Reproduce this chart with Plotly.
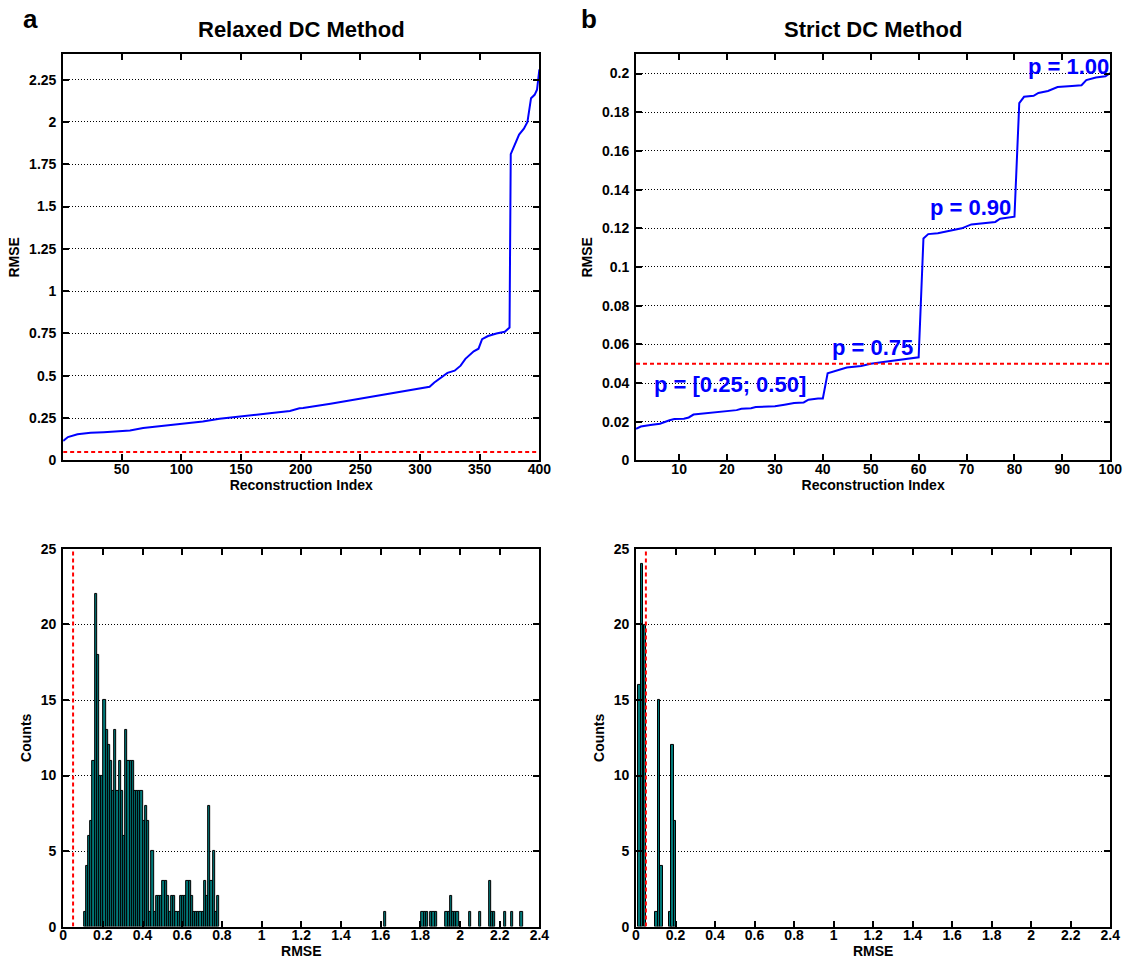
import plotly.graph_objects as go

# ---------------- data ----------------
relaxed_idx = [1, 5, 13, 24, 35, 57, 68, 90, 101, 118, 132, 154, 163, 174, 191, 199, 202,
               225, 250, 275, 300, 308, 312, 318, 323, 329, 334, 338, 345, 349, 352, 357,
               364, 371, 375, 376, 380, 383, 387, 390, 393, 396, 398, 400]
relaxed_rmse = [0.115, 0.138, 0.154, 0.163, 0.167, 0.177, 0.192, 0.208, 0.215, 0.23, 0.246,
                0.26, 0.27, 0.279, 0.292, 0.308, 0.31, 0.335, 0.366, 0.395, 0.428, 0.435,
                0.46, 0.49, 0.517, 0.53, 0.56, 0.60, 0.645, 0.66, 0.716, 0.735, 0.75, 0.76,
                0.785, 1.81, 1.88, 1.925, 1.96, 2.0, 2.14, 2.16, 2.19, 2.31]

strict_idx = [1, 2, 4, 6, 8, 9, 11, 12, 13, 15, 18, 20, 22, 23, 25, 26, 30, 32, 34, 36,
              37, 39, 40, 41, 42, 44, 45, 48, 50, 53, 56, 58, 60, 61, 62, 64, 66, 68, 69, 71,
              74, 76, 77, 80, 81, 82, 84, 85, 87, 89, 92, 94, 95, 97, 99, 100]
strict_rmse = [0.0163, 0.0175, 0.0183, 0.019, 0.0208, 0.0214, 0.0215, 0.0222, 0.0237, 0.0242,
               0.025, 0.0256, 0.026, 0.0267, 0.027, 0.0276, 0.028, 0.0288, 0.0297, 0.030,
               0.0314, 0.032, 0.032, 0.045, 0.0458, 0.047, 0.048, 0.0488, 0.050, 0.051,
               0.052, 0.053, 0.0533, 0.1147, 0.117, 0.1175, 0.1185, 0.1197, 0.12, 0.122,
               0.123, 0.1233, 0.125, 0.126, 0.1847, 0.188, 0.1885, 0.190, 0.191, 0.193,
               0.1936, 0.194, 0.1966, 0.198, 0.1986, 0.2003]

threshold = 0.05

hist_relaxed_rmse = [0.110, 0.121, 0.132, 0.143, 0.154, 0.165, 0.176, 0.187, 0.198, 0.209,
                     0.220, 0.231, 0.242, 0.253, 0.264, 0.275, 0.286, 0.297, 0.308, 0.319,
                     0.330, 0.341, 0.352, 0.363, 0.374, 0.385, 0.396, 0.407, 0.418, 0.429,
                     0.440, 0.451, 0.462, 0.473, 0.484, 0.495, 0.506, 0.517, 0.528, 0.539,
                     0.550, 0.561, 0.572, 0.583, 0.594, 0.605, 0.616, 0.627, 0.638, 0.649,
                     0.660, 0.671, 0.682, 0.693, 0.704, 0.715, 0.726, 0.737, 0.748, 0.759,
                     0.770, 0.781,
                     1.621, 1.812, 1.823, 1.834, 1.856, 1.867, 1.878, 1.933, 1.944, 1.955,
                     1.966, 1.977, 1.988, 2.051, 2.101, 2.152, 2.163, 2.174, 2.229, 2.262, 2.311]
hist_relaxed_counts = [1, 4, 6, 7, 11, 22, 18, 10, 10, 15,
                       13, 12, 11, 9, 13, 9, 11, 9, 6, 13,
                       11, 11, 11, 9, 9, 9, 9, 7, 8, 7,
                       1, 5, 1, 2, 2, 2, 3, 3, 2, 1,
                       2, 2, 1, 1, 2, 2, 2, 3, 3, 2,
                       1, 1, 1, 1, 1, 3, 2, 8, 3, 5,
                       1, 2,
                       1, 1, 1, 1, 1, 1, 1, 1, 1, 2,
                       1, 1, 1, 1, 1, 3, 1, 1, 1, 1, 1]

hist_strict_rmse = [0.016, 0.031, 0.046, 0.104, 0.116, 0.128, 0.175, 0.186, 0.197]
hist_strict_counts = [16, 24, 20, 1, 15, 4, 1, 12, 7]

line_ticks_relaxed = [50, 100, 150, 200, 250, 300, 350, 400]
line_ticks_strict = [10, 20, 30, 40, 50, 60, 70, 80, 90, 100]
rmse_ticks_relaxed = [0, 0.25, 0.5, 0.75, 1, 1.25, 1.5, 1.75, 2, 2.25]
rmse_ticks_strict = [0, 0.02, 0.04, 0.06, 0.08, 0.1, 0.12, 0.14, 0.16, 0.18, 0.2]
hist_x_ticks = [0, 0.2, 0.4, 0.6, 0.8, 1, 1.2, 1.4, 1.6, 1.8, 2, 2.2, 2.4]
count_ticks = [0, 5, 10, 15, 20, 25]

# ---------------- figure ----------------
W, H = 1141, 971
FONT = "Liberation Sans, Arial, Helvetica, sans-serif"
BLUE = "#0000ff"
RED = "#ff0000"
TEAL = "#007878"


def px_x(p):
    return p / W


def px_y(p):
    return 1 - p / H


def fmt(v):
    return "%g" % v


fig = go.Figure()

fig.add_trace(go.Scatter(x=relaxed_idx, y=relaxed_rmse, mode="lines",
                         line=dict(color=BLUE, width=2), xaxis="x", yaxis="y",
                         showlegend=False))
fig.add_trace(go.Scatter(x=[1, 400], y=[threshold, threshold], mode="lines",
                         line=dict(color=RED, width=2, dash="4px,3px"), xaxis="x", yaxis="y",
                         showlegend=False))
fig.add_trace(go.Scatter(x=strict_idx, y=strict_rmse, mode="lines",
                         line=dict(color=BLUE, width=2), xaxis="x2", yaxis="y2",
                         showlegend=False))
fig.add_trace(go.Scatter(x=[1, 100], y=[threshold, threshold], mode="lines",
                         line=dict(color=RED, width=2, dash="4px,3px"), xaxis="x2", yaxis="y2",
                         showlegend=False))
fig.add_trace(go.Bar(x=hist_relaxed_rmse, y=hist_relaxed_counts, width=0.011,
                     marker=dict(color=TEAL, line=dict(color="black", width=1)),
                     xaxis="x3", yaxis="y3", showlegend=False))
fig.add_trace(go.Scatter(x=[threshold, threshold], y=[0, 25], mode="lines",
                         line=dict(color=RED, width=2, dash="4px,3px"), xaxis="x3", yaxis="y3",
                         showlegend=False))
fig.add_trace(go.Bar(x=hist_strict_rmse, y=hist_strict_counts, width=0.0135,
                     marker=dict(color=TEAL, line=dict(color="black", width=1)),
                     xaxis="x4", yaxis="y4", showlegend=False))
fig.add_trace(go.Scatter(x=[threshold, threshold], y=[0, 25], mode="lines",
                         line=dict(color=RED, width=2, dash="4px,3px"), xaxis="x4", yaxis="y4",
                         showlegend=False))

tickfont = dict(family=FONT, size=14, color="black", weight="bold")
titlefont = dict(family=FONT, size=14, color="black", weight="bold")


def xax(domain, rng, ticks, title, anchor):
    return dict(domain=domain, range=rng, tickvals=ticks, ticktext=[fmt(t) for t in ticks],
                showgrid=False, zeroline=False, showline=True, linecolor="black", linewidth=2,
                mirror="ticks", ticks="inside", ticklen=6, tickwidth=1.5, tickcolor="black",
                tickfont=tickfont, anchor=anchor, ticklabelstandoff=-5,
                title=dict(text=title, font=titlefont, standoff=0))


def yax(domain, rng, ticks, title, anchor):
    return dict(domain=domain, range=rng, tickvals=ticks, ticktext=[fmt(t) for t in ticks],
                showgrid=True, gridcolor="black", griddash="1px,2px", gridwidth=1,
                zeroline=False, showline=True, linecolor="black", linewidth=2,
                mirror="ticks", ticks="inside", ticklen=6, tickwidth=1.5, tickcolor="black",
                tickfont=tickfont, anchor=anchor, ticklabelstandoff=2,
                title=dict(text=title, font=titlefont, standoff=6))


xl = [px_x(60), px_x(543)]
xr = [px_x(641), px_x(1122)]
yt = [px_y(460), px_y(47)]
yb = [px_y(934), px_y(550)]

fig.update_layout(
    width=W, height=H,
    margin=dict(l=0, r=0, t=0, b=0),
    paper_bgcolor="white", plot_bgcolor="white",
    bargap=0,
    xaxis=xax(xl, [1, 400], line_ticks_relaxed, "Reconstruction Index", "y"),
    yaxis=yax(yt, [0, 2.4], rmse_ticks_relaxed, "RMSE", "x"),
    xaxis2=xax(xr, [1, 100], line_ticks_strict, "Reconstruction Index", "y2"),
    yaxis2=yax(yt, [0, 0.21], rmse_ticks_strict, "RMSE", "x2"),
    xaxis3=xax(xl, [0, 2.4], hist_x_ticks, "RMSE", "y3"),
    yaxis3=yax(yb, [0, 25], count_ticks, "Counts", "x3"),
    xaxis4=xax(xr, [0, 2.4], hist_x_ticks, "RMSE", "y4"),
    yaxis4=yax(yb, [0, 25], count_ticks, "Counts", "x4"),
)

annots = [
    dict(text="Relaxed DC Method", x=(xl[0] + xl[1]) / 2, y=px_y(22), xref="paper", yref="paper",
         showarrow=False, xanchor="center", yanchor="middle",
         font=dict(family=FONT, size=22, color="black", weight="bold")),
    dict(text="Strict DC Method", x=(xr[0] + xr[1]) / 2, y=px_y(22), xref="paper", yref="paper",
         showarrow=False, xanchor="center", yanchor="middle",
         font=dict(family=FONT, size=22, color="black", weight="bold")),
    dict(text="a", x=px_x(17), y=px_y(11), xref="paper", yref="paper", showarrow=False,
         xanchor="left", yanchor="middle",
         font=dict(family=FONT, size=26, color="black", weight="bold")),
    dict(text="b", x=px_x(583), y=px_y(11), xref="paper", yref="paper", showarrow=False,
         xanchor="left", yanchor="middle",
         font=dict(family=FONT, size=26, color="black", weight="bold")),
    dict(text="p = [0.25; 0.50]", x=4.3, y=0.039, xref="x2", yref="y2", showarrow=False,
         xanchor="left", yanchor="middle",
         font=dict(family=FONT, size=22, color=BLUE, weight="bold")),
    dict(text="p = 0.75", x=41.5, y=0.0585, xref="x2", yref="y2", showarrow=False,
         xanchor="left", yanchor="middle",
         font=dict(family=FONT, size=22, color=BLUE, weight="bold")),
    dict(text="p = 0.90", x=62, y=0.131, xref="x2", yref="y2", showarrow=False,
         xanchor="left", yanchor="middle",
         font=dict(family=FONT, size=22, color=BLUE, weight="bold")),
    dict(text="p = 1.00", x=82.5, y=0.2035, xref="x2", yref="y2", showarrow=False,
         xanchor="left", yanchor="middle",
         font=dict(family=FONT, size=22, color=BLUE, weight="bold")),
]
fig.update_layout(annotations=annots)

fig.write_html("out.html")
